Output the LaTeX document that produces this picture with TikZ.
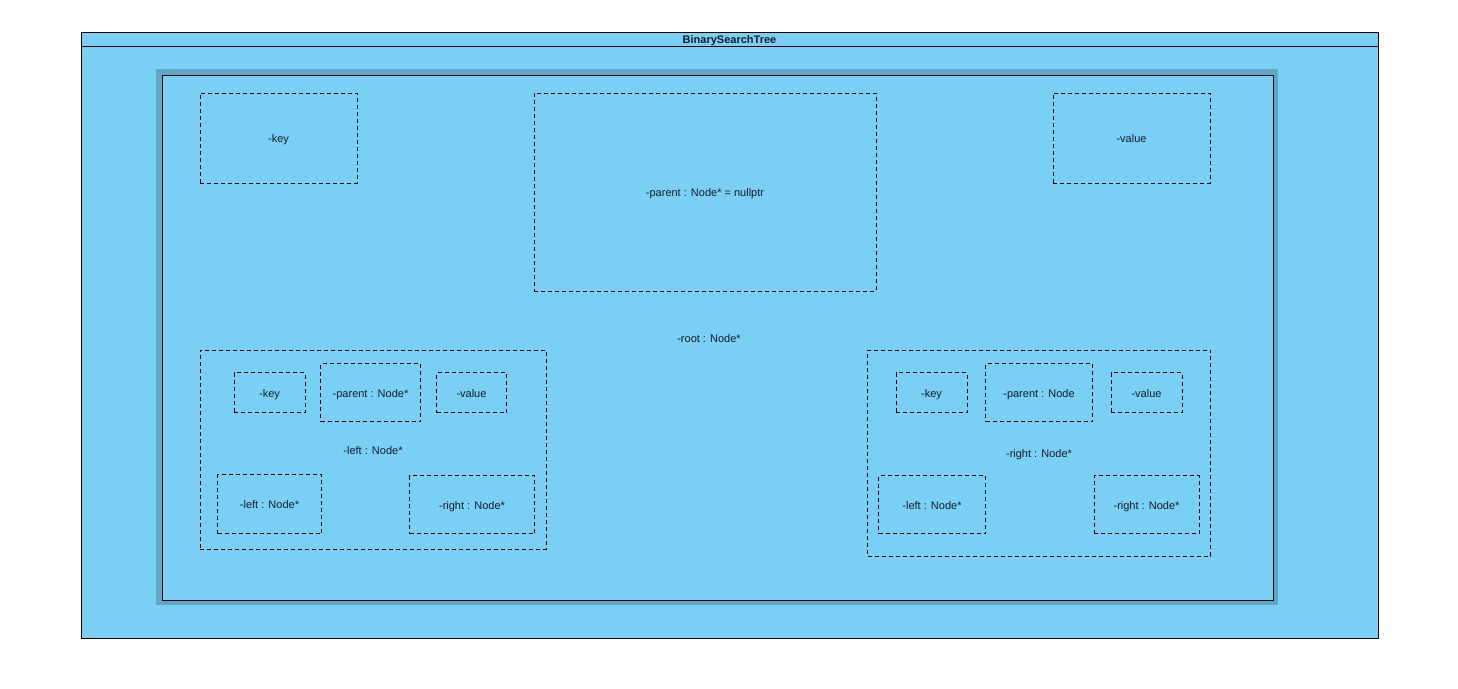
\documentclass[tikz,border=0pt]{standalone}
\usepackage{fontspec}
\setmainfont{Liberation Sans}
\definecolor{lightfill}{RGB}{122,207,245}
\definecolor{bandcol}{RGB}{96,166,198}
\definecolor{txt}{RGB}{20,30,40}
\begin{document}
\begin{tikzpicture}[x=1pt,y=-1pt,
  every node/.style={font=\fontsize{11}{13}\selectfont, text=txt, inner sep=0pt, text height=9.5pt, text depth=0pt},
  dbox/.style={draw=black, line width=0.8pt, dash pattern=on 4pt off 3pt, rectangle},
  solidbox/.style={draw=black, line width=0.8pt, rectangle, fill=lightfill}]
\useasboundingbox (0,0) rectangle (1458,688);
\fill[white] (0,0) rectangle (1458,688);
% outer class box
\node[solidbox, minimum width=1297pt, minimum height=606pt] (bst) at (729.5,335) {};
\node[solidbox, minimum width=1297pt, minimum height=14pt] (titlebar) at (729.5,39) {};
\node[font=\fontsize{11}{13}\selectfont\bfseries, text height=8pt] (title) at (729.5,39.5) {BinarySearchTree};
% root band and box
\fill[bandcol] (156,69) rectangle (1278,605);
\node[solidbox, minimum width=1111pt, minimum height=525pt] (root) at (717.5,337.5) {};
\node (rootlabel) at (709,338) {-root : Node*};
% top row
\node[dbox, minimum width=157pt, minimum height=90pt] (key) at (278.5,138) {-key};
\node[dbox, minimum width=342pt, minimum height=198pt] (parent) at (705,192) {-parent : Node* = nullptr};
\node[dbox, minimum width=157pt, minimum height=90pt] (value) at (1131.5,138) {-value};
% left subtree
\node[dbox, minimum width=346pt, minimum height=199pt] (left) at (373,449.5) {-left : Node*};
\node[dbox, minimum width=71pt, minimum height=40pt] (lkey) at (269.5,392.5) {-key};
\node[dbox, minimum width=100pt, minimum height=58pt] (lparent) at (370.5,392.5) {-parent : Node*};
\node[dbox, minimum width=70pt, minimum height=40pt] (lvalue) at (471.5,392.5) {-value};
\node[dbox, minimum width=104pt, minimum height=59pt] (lleft) at (269.5,504) {-left : Node*};
\node[dbox, minimum width=125pt, minimum height=58pt] (lright) at (472,504.5) {-right : Node*};
% right subtree
\node[dbox, minimum width=343pt, minimum height=206pt] (right) at (1039,453) {-right : Node*};
\node[dbox, minimum width=71pt, minimum height=40pt] (rkey) at (931.5,392.5) {-key};
\node[dbox, minimum width=107pt, minimum height=58pt] (rparent) at (1039,392.5) {-parent : Node};
\node[dbox, minimum width=71pt, minimum height=40pt] (rvalue) at (1146.5,392.5) {-value};
\node[dbox, minimum width=107pt, minimum height=58pt] (rleft) at (932,504.5) {-left : Node*};
\node[dbox, minimum width=105pt, minimum height=58pt] (rright) at (1146.5,504.5) {-right : Node*};
\end{tikzpicture}
\end{document}
